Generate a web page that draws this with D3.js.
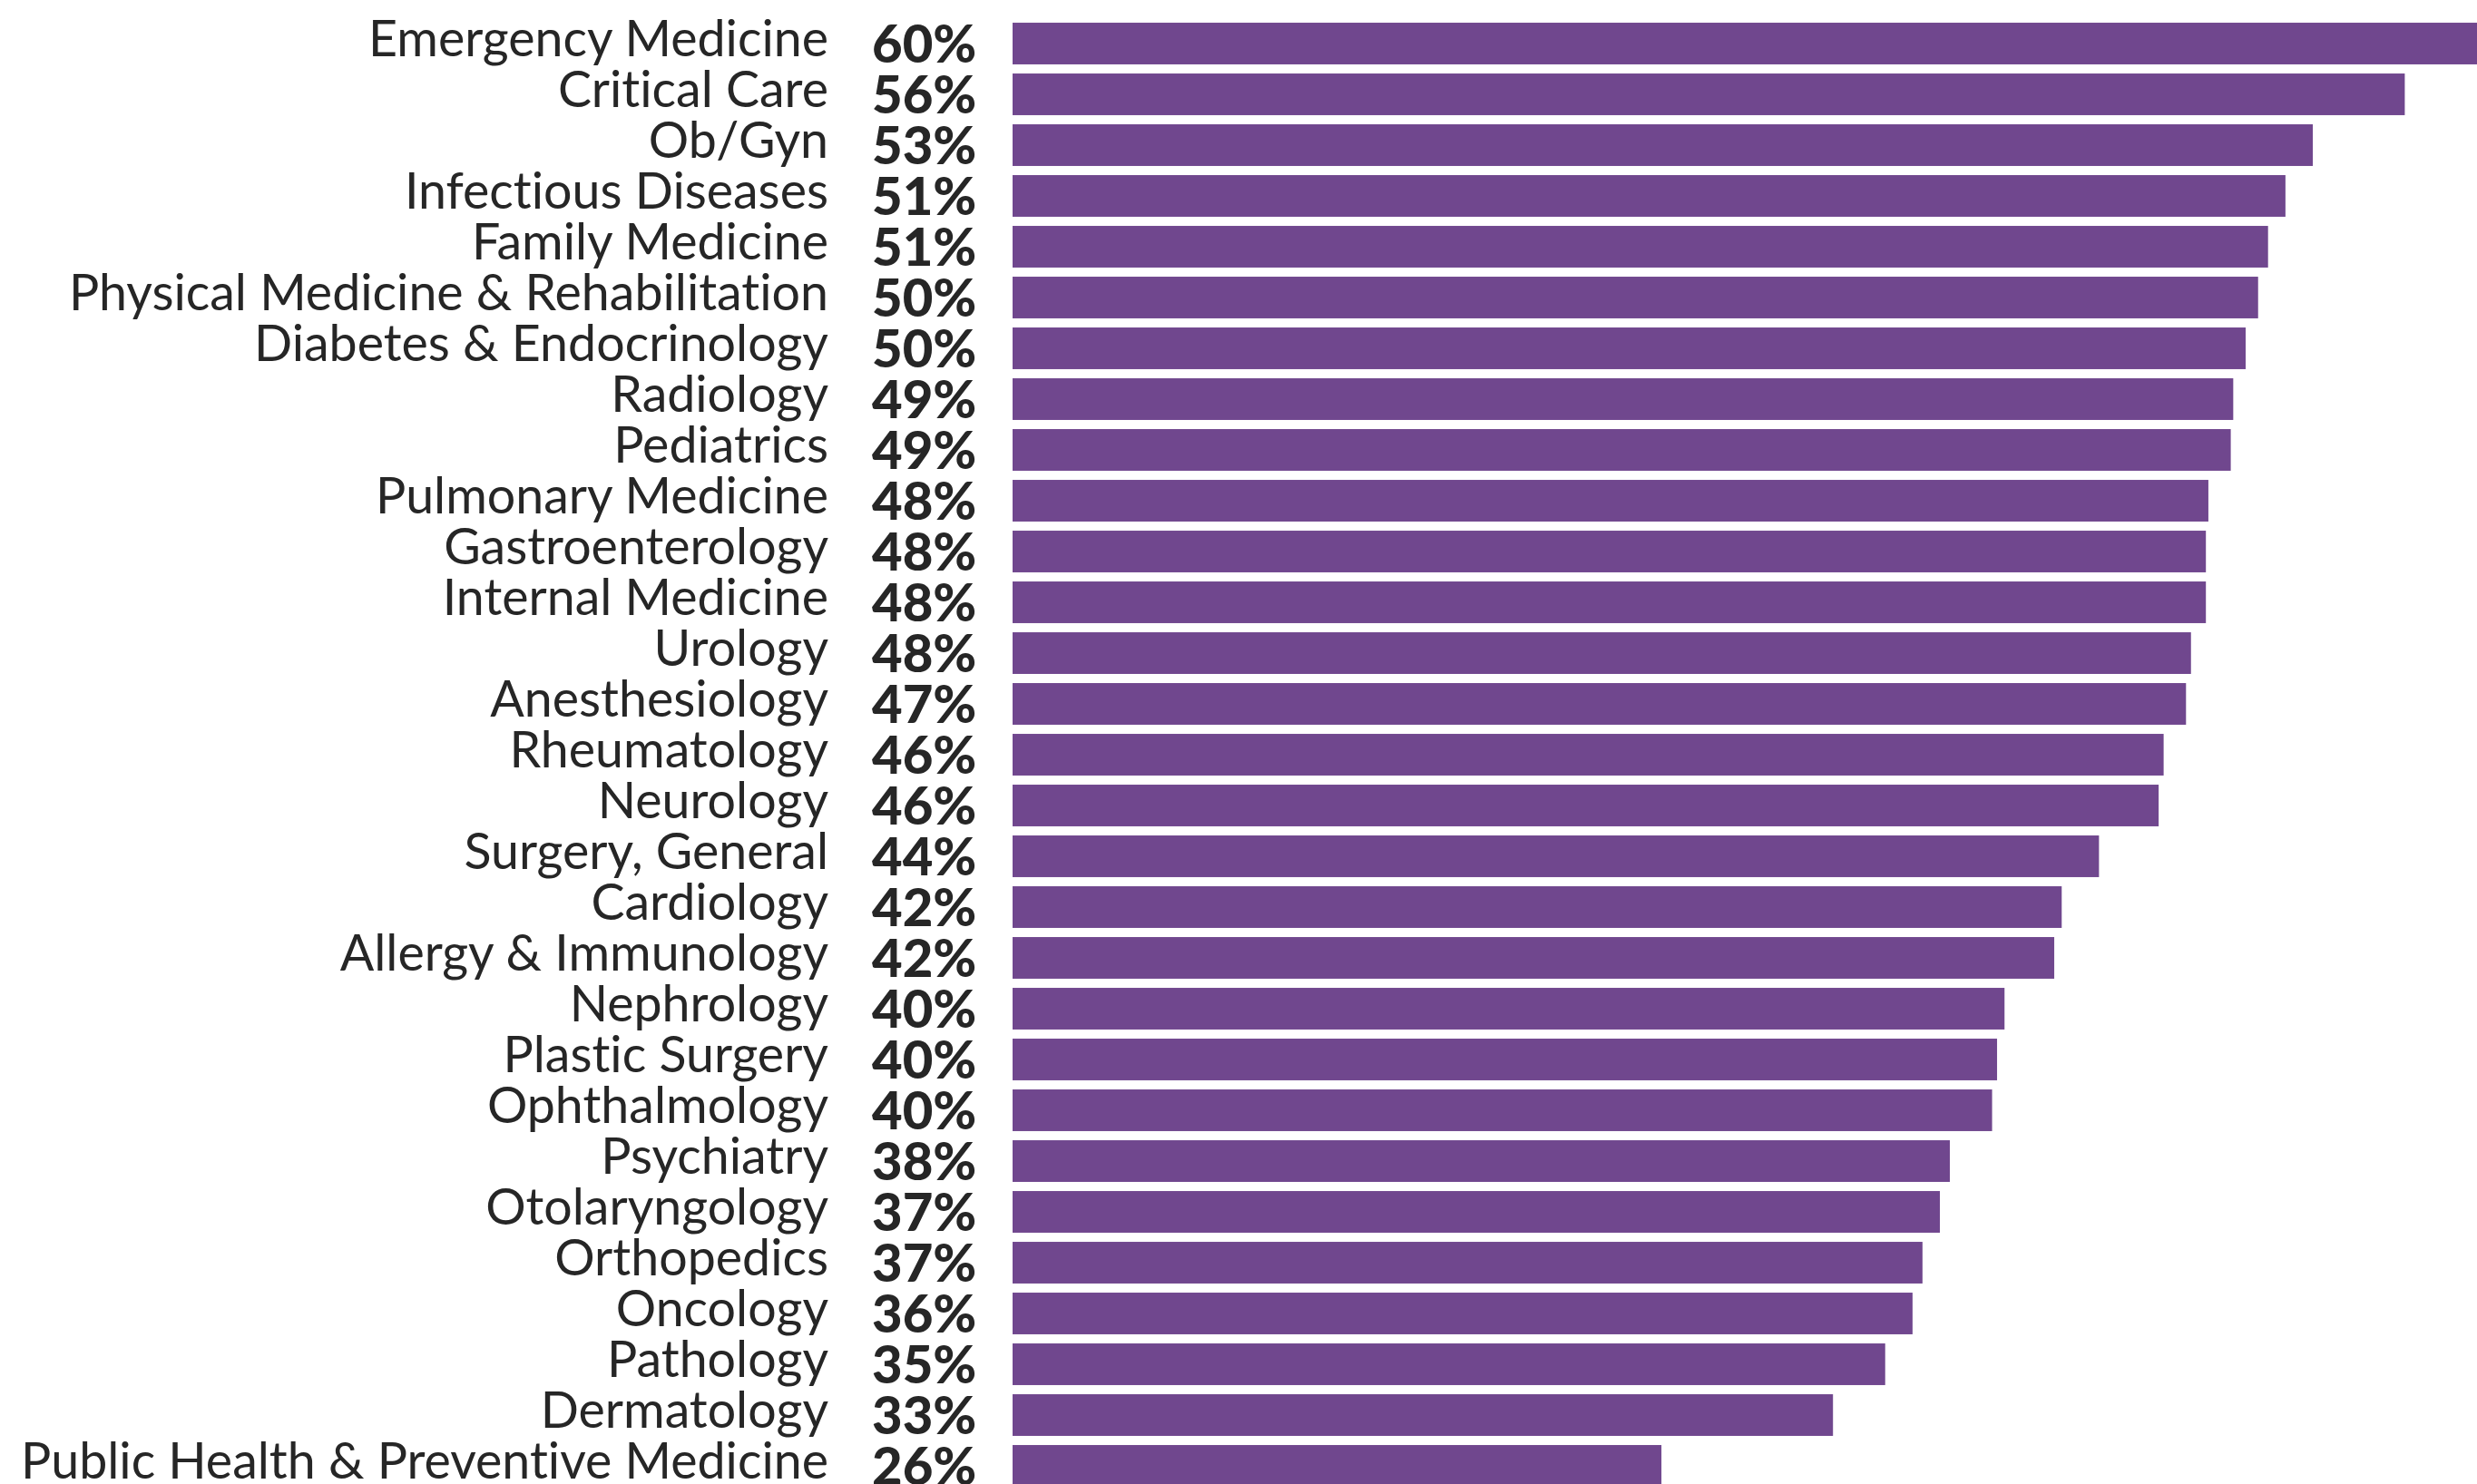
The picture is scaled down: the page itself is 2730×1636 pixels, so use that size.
<!DOCTYPE html>
<html>
<head>
<meta charset="utf-8">
<script src="https://cdn.jsdelivr.net/npm/d3@7"></script>
<style>
  html, body { margin: 0; padding: 0; background: #fff; }
  svg { display: block; }
  text { font-variant-ligatures: none; }
</style>
</head>
<body>
<div id="chart"></div>
<script>
// specialties, top to bottom
var specialties = [
  "Emergency Medicine", "Critical Care", "Ob/Gyn", "Infectious Diseases",
  "Family Medicine", "Physical Medicine & Rehabilitation", "Diabetes & Endocrinology",
  "Radiology", "Pediatrics", "Pulmonary Medicine", "Gastroenterology",
  "Internal Medicine", "Urology", "Anesthesiology", "Rheumatology", "Neurology",
  "Surgery, General", "Cardiology", "Allergy & Immunology", "Nephrology",
  "Plastic Surgery", "Ophthalmology", "Psychiatry", "Otolaryngology",
  "Orthopedics", "Oncology", "Pathology", "Dermatology",
  "Public Health & Preventive Medicine"
];

// percentages printed next to each bar
var shown = [60, 56, 53, 51, 51, 50, 50, 49, 49, 48, 48, 48, 48, 47, 46, 46,
             44, 42, 42, 40, 40, 40, 38, 37, 37, 36, 35, 33, 26];

// bar lengths (the bars are not drawn exactly to the rounded labels)
var values = [60, 56.0, 52.3, 51.2, 50.5, 50.1, 49.6, 49.1, 49.0, 48.1, 48.0, 48.0,
              47.4, 47.2, 46.3, 46.1, 43.7, 42.2, 41.9, 39.9, 39.6, 39.4, 37.7,
              37.3, 36.6, 36.2, 35.1, 33.0, 26.1];

var data = specialties.map(function (s, i) {
  return { name: s, value: values[i], label: shown[i] + "%" };
});

var width = 2730, height = 1636;

var svg = d3.select("#chart")
  .append("svg")
    .attr("width", width)
    .attr("height", height);

var x = d3.scaleLinear()
  .domain([0, 60])
  .range([1116, 1116 + 60 * 27.4]);

var y = d3.scaleBand()
  .domain(specialties)
  .range([20, 1644])
  .paddingInner(0.18)
  .paddingOuter(0.09);

// bars
svg.append("g")
  .selectAll("rect")
  .data(data)
  .enter()
  .append("rect")
    .attr("x", x(0))
    .attr("y", function (d) { return y(d.name); })
    .attr("width", function (d) { return x(d.value) - x(0); })
    .attr("height", y.bandwidth())
    .style("fill", "#70478e");

// specialty names
svg.append("g")
  .selectAll("text")
  .data(data)
  .enter()
  .append("text")
    .attr("x", 913)
    .attr("y", function (d) { return y(d.name) + y.bandwidth() / 2 + 14; })
    .attr("text-anchor", "end")
    .style("font-family", "Lato, 'Open Sans', sans-serif")
    .style("font-size", "55.5px")
    .style("fill", "#262626")
    .text(function (d) { return d.name; });

// percent labels
svg.append("g")
  .selectAll("text")
  .data(data)
  .enter()
  .append("text")
    .attr("x", 961)
    .attr("y", function (d) { return y(d.name) + y.bandwidth() / 2 + 21; })
    .style("font-family", "Lato, 'Open Sans', sans-serif")
    .style("font-size", "58px")
    .style("font-weight", "900")
    .style("fill", "#262626")
    .text(function (d) { return d.label; });
</script>
</body>
</html>
